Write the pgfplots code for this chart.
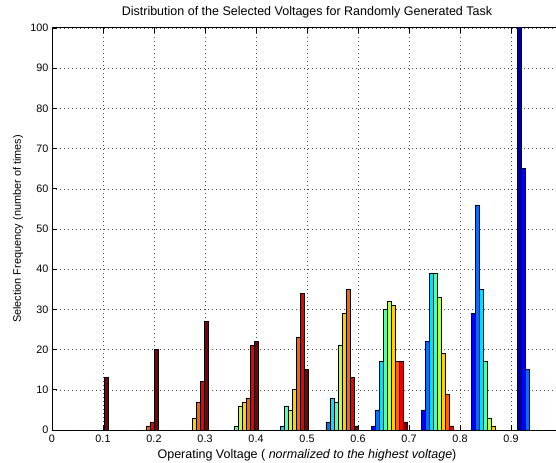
\documentclass[border=0pt]{standalone}
\usepackage{fontspec}
\setmainfont{Liberation Sans}
\usepackage{pgfplots}
\usepackage{pgfplotstable}
\pgfplotsset{compat=1.18}
\definecolor{c1}{rgb}{0,0,0.5625}
\definecolor{c2}{rgb}{0,0,1}
\definecolor{c3}{rgb}{0,0.4375,1}
\definecolor{c4}{rgb}{0,0.875,1}
\definecolor{c5}{rgb}{0.3125,1,0.6875}
\definecolor{c6}{rgb}{0.75,1,0.25}
\definecolor{c7}{rgb}{1,0.8125,0}
\definecolor{c8}{rgb}{1,0.375,0}
\definecolor{c9}{rgb}{0.9375,0,0}
\definecolor{c10}{rgb}{0.5,0,0}
\pgfplotstableread{
x s1 s2 s3 s4 s5 s6 s7 s8 s9 s10
0.0723 0 0 0 0 0 0 0 0 0 13
0.1700 0 0 0 0 0 0 0 1 2 20
0.2676 0 0 0 0 0 0 3 7 12 27
0.3653 0 0 0 0 1 6 7 8 21 22
0.4629 0 0 0 1 6 5 10 23 34 15
0.5606 0 0 2 8 7 21 29 35 13 1
0.6582 0 1 5 17 30 32 31 17 17 2
0.7559 0 5 22 39 39 33 19 9 1 0
0.8535 0 29 56 35 17 3 1 0 0 0
0.9512 112 65 15 0 0 0 0 0 0 0
}\data
\begin{document}
\begin{tikzpicture}
\begin{axis}[
  at={(52bp,33bp)}, anchor=south west,
  scale only axis, width=510bp, height=402bp,
  xmin=0, xmax=1, ymin=0, ymax=100,
  ybar=0pt, bar width=3.98bp,
  xtick={0,0.1,0.2,0.3,0.4,0.5,0.6,0.7,0.8,0.9},
  xticklabels={0,0.1,0.2,0.3,0.4,0.5,0.6,0.7,0.8,0.9},
  ytick={0,10,20,30,40,50,60,70,80,90,100},
  tick align=inside, major tick length=5bp,
  grid=major,
  major grid style={black!70, line width=0.5bp, dash pattern=on 0.6bp off 3.4bp},
  axis line style={black, line width=1bp},
  tick style={black, line width=0.6bp},
  /pgf/number format/assume math mode=true,
  ticklabel style={font=\fontsize{10.8bp}{13bp}\selectfont},
  xticklabel style={yshift=-1bp},
  xlabel={Operating Voltage ( \textit{normalized to the highest voltage})},
  ylabel={Selection Frequency (number of times)},
  title={Distribution of the Selected Voltages for Randomly Generated Task},
  every axis x label/.style={at={(axis description cs:0.5,0)}, yshift=-25bp, anchor=center, font=\fontsize{12.5bp}{15bp}\selectfont},
  every axis y label/.style={at={(axis description cs:0,0.5)}, xshift=-34bp, rotate=90, anchor=center, font=\fontsize{10.9bp}{13bp}\selectfont},
  every axis title/.style={at={(axis description cs:0.5,1)}, yshift=16bp, anchor=center, font=\fontsize{12.5bp}{15bp}\selectfont},
  every axis plot/.append style={draw=black, line width=0.6bp},
]
\addplot[fill=c1] table[x=x,y=s1]{\data};
\addplot[fill=c2] table[x=x,y=s2]{\data};
\addplot[fill=c3] table[x=x,y=s3]{\data};
\addplot[fill=c4] table[x=x,y=s4]{\data};
\addplot[fill=c5] table[x=x,y=s5]{\data};
\addplot[fill=c6] table[x=x,y=s6]{\data};
\addplot[fill=c7] table[x=x,y=s7]{\data};
\addplot[fill=c8] table[x=x,y=s8]{\data};
\addplot[fill=c9] table[x=x,y=s9]{\data};
\addplot[fill=c10] table[x=x,y=s10]{\data};
\end{axis}
\pgfresetboundingbox
\path[use as bounding box] (0,0) rectangle (556bp,463bp);
\end{tikzpicture}
\end{document}
